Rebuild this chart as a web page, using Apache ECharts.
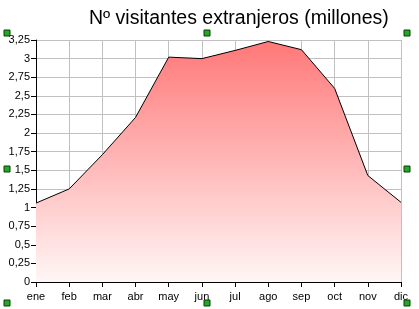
<!DOCTYPE html>
<html><head><meta charset="utf-8">
<script src="https://cdn.jsdelivr.net/npm/echarts@6/dist/echarts.min.js"></script>
<style>html,body{margin:0;padding:0;background:#fff}#c{width:419px;height:309px}</style>
</head><body><div id="c"></div>
<script>
const titleText = 'Nº visitantes extranjeros (millones)';
const months = ['ene','feb','mar','abr','may','jun','jul','ago','sep','oct','nov','dic'];
const visitors = [1.06, 1.25, 1.71, 2.21, 3.02, 3.0, 3.11, 3.23, 3.12, 2.6, 1.43, 1.07];
const yMin = 0, yMax = 3.25, yStep = 0.25;

const chart = echarts.init(document.getElementById('c'), null, {renderer:'canvas'});
const font = 'Liberation Sans, Arial, sans-serif';
function handle(x, y){
  return {type:'rect', shape:{x:x, y:y, width:6, height:6},
    style:{fill:'#22a822', stroke:'#0b3d0b', lineWidth:1}, z:100};
}
chart.setOption({
  animation:false,
  backgroundColor:'#fff',
  title:{text:titleText, left:84, top:4,
    textStyle:{fontFamily:font, fontSize:19.5, fontWeight:'normal', color:'#000'}},
  grid:{left:36, right:18, top:40, bottom:27, containLabel:false},
  xAxis:{type:'category', data:months, boundaryGap:false,
    axisLine:{lineStyle:{color:'#000', width:1}},
    axisTick:{show:true, length:5, lineStyle:{color:'#000'}},
    axisLabel:{color:'#000', fontFamily:font, fontSize:11, margin:9},
    splitLine:{show:true, lineStyle:{color:'#c0c0c0', width:1}}},
  yAxis:{type:'value', min:yMin, max:yMax, interval:yStep,
    axisLine:{show:true, lineStyle:{color:'#000', width:1}},
    axisTick:{show:true, length:5, lineStyle:{color:'#000'}},
    axisLabel:{color:'#000', fontFamily:font, fontSize:11, margin:6,
      formatter:v => String(v).replace('.', ',')},
    splitLine:{show:true, lineStyle:{color:'#c0c0c0', width:1}}},
  series:[{type:'line', data:visitors, showSymbol:false, symbol:'none',
    lineStyle:{color:'#000', width:1},
    areaStyle:{opacity:1, color:new echarts.graphic.LinearGradient(0,0,0,1,[
      {offset:0, color:'#ff7878'},{offset:1, color:'#fff6f6'}])}}],
  graphic:[handle(4,30),handle(204,30),handle(404,30),
           handle(4,166),handle(404,166),
           handle(4,300),handle(204,300),handle(404,300)]
});
</script></body></html>
